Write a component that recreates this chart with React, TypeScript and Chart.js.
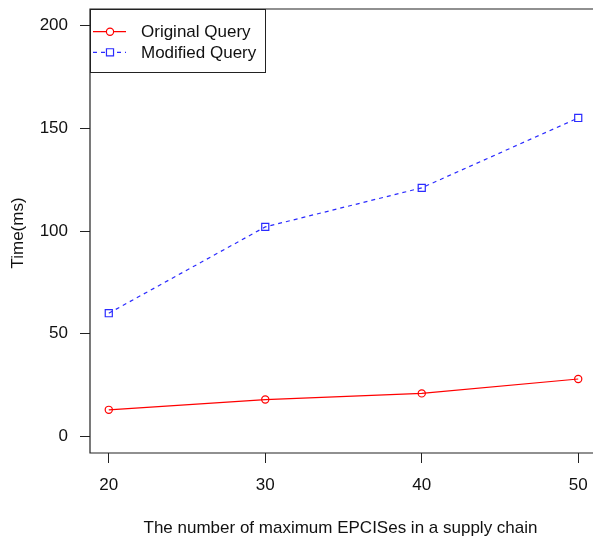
import { useEffect, useRef } from "react";
import { Chart, registerables } from "chart.js";

Chart.register(...registerables);

// Query time versus the maximum number of EPCISes in a supply chain
const epcisCounts = [20, 30, 40, 50];
const originalQueryMs = [13, 18, 21, 28];
const modifiedQueryMs = [60, 102, 121, 155];
const xTicks = [20, 30, 40, 50];
const yTicks = [0, 50, 100, 150, 200];
const seriesNames = ["Original Query", "Modified Query"];
const xTitle = "The number of maximum EPCISes in a supply chain";
const yTitle = "Time(ms)";

const FONT = "'Liberation Sans', Arial, Helvetica, sans-serif";
const FONT_SIZE = 17;
const RED = "#ff0000";
const BLUE = "#2b2bff";

// Frame around the plot region, R-style legend in the top-left corner and axis titles
const framePlugin = {
  id: "frameAndLegend",
  afterDraw(chart: any) {
    const { ctx, chartArea } = chart;
    const { left, top, right, bottom } = chartArea;
    ctx.save();

    // legend box
    const lw = 175;
    const lh = 63;
    ctx.fillStyle = "#ffffff";
    ctx.fillRect(left, top, lw, lh);
    ctx.strokeStyle = "#222";
    ctx.lineWidth = 1;
    ctx.strokeRect(left + 0.5, top + 0.5, lw, lh);

    const rows = [top + 22.7, top + 43.3];
    const sx0 = left + 3;
    const sx1 = left + 36;
    const mx = left + 20;
    ctx.font = `${FONT_SIZE}px ${FONT}`;
    ctx.textBaseline = "middle";
    ctx.textAlign = "left";
    chart.data.datasets.forEach((ds: any, i: number) => {
      const y = rows[i];
      ctx.strokeStyle = ds.borderColor;
      ctx.lineWidth = ds.borderWidth;
      ctx.setLineDash(ds.borderDash || []);
      ctx.beginPath();
      ctx.moveTo(sx0, y);
      ctx.lineTo(sx1, y);
      ctx.stroke();
      ctx.setLineDash([]);
      ctx.beginPath();
      if (ds.pointStyle === "rect") {
        const h = ds.pointRadius * Math.SQRT1_2;
        ctx.rect(mx - h, y - h, 2 * h, 2 * h);
      } else {
        ctx.arc(mx, y, ds.pointRadius, 0, Math.PI * 2);
      }
      ctx.fillStyle = "#ffffff";
      ctx.fill();
      ctx.stroke();
      ctx.fillStyle = "#111";
      ctx.fillText(ds.label, left + 51, y + 1);
    });

    // plot frame: top, left and bottom edges (the right edge lies past the page)
    ctx.strokeStyle = "#222";
    ctx.lineWidth = 1.2;
    ctx.beginPath();
    ctx.moveTo(right + 10, top);
    ctx.lineTo(left, top);
    ctx.lineTo(left, bottom);
    ctx.lineTo(right + 10, bottom);
    ctx.stroke();

    // axis titles
    ctx.fillStyle = "#111";
    ctx.font = `${FONT_SIZE}px ${FONT}`;
    ctx.textAlign = "center";
    ctx.textBaseline = "alphabetic";
    ctx.fillText(xTitle, (left + right) / 2 - 3, bottom + 80);
    ctx.translate(22.5, (top + bottom) / 2 + 2);
    ctx.rotate(-Math.PI / 2);
    ctx.fillText(yTitle, 0, 0);
    ctx.restore();
  },
};

export default function App() {
  const canvasRef = useRef<HTMLCanvasElement | null>(null);

  useEffect(() => {
    const canvas = canvasRef.current;
    if (!canvas) return;
    const chart = new Chart(canvas, {
      type: "line",
      data: {
        datasets: [
          {
            label: seriesNames[0],
            data: epcisCounts.map((x, i) => ({ x, y: originalQueryMs[i] })),
            borderColor: RED,
            borderWidth: 1.2,
            pointStyle: "circle",
            pointRadius: 3.6,
            pointBorderWidth: 1.2,
            pointBorderColor: RED,
            pointBackgroundColor: "rgba(0,0,0,0)",
            tension: 0,
          },
          {
            label: seriesNames[1],
            data: epcisCounts.map((x, i) => ({ x, y: modifiedQueryMs[i] })),
            borderColor: BLUE,
            borderWidth: 1.2,
            borderDash: [4, 4],
            pointStyle: "rect",
            pointRadius: 5,
            pointBorderWidth: 1.2,
            pointBorderColor: BLUE,
            pointBackgroundColor: "rgba(0,0,0,0)",
            tension: 0,
          },
        ],
      },
      options: {
        animation: false,
        responsive: false,
        devicePixelRatio: 1,
        layout: { padding: { top: 9, right: 23, left: 0, bottom: 0 } },
        plugins: {
          legend: { display: false },
          tooltip: { enabled: false },
        },
        scales: {
          x: {
            type: "linear",
            min: 18.8,
            max: 51.2,
            afterBuildTicks: (axis: any) => {
              axis.ticks = xTicks.map((v) => ({ value: v }));
            },
            afterFit: (axis: any) => {
              axis.height = 83;
              axis.paddingLeft = 0;
              axis.paddingRight = 0;
            },
            grid: {
              drawOnChartArea: false,
              drawTicks: true,
              tickLength: 10,
              tickColor: "#222",
              tickWidth: 1,
            },
            border: { display: false },
            ticks: {
              padding: 12,
              color: "#111",
              font: { family: FONT, size: FONT_SIZE },
              maxRotation: 0,
              autoSkip: false,
            },
          },
          y: {
            type: "linear",
            min: -8,
            max: 208,
            afterBuildTicks: (axis: any) => {
              axis.ticks = yTicks.map((v) => ({ value: v }));
            },
            afterFit: (axis: any) => {
              axis.width = 90;
              axis.paddingTop = 0;
              axis.paddingBottom = 0;
            },
            grid: {
              drawOnChartArea: false,
              drawTicks: true,
              tickLength: 10,
              tickColor: "#222",
              tickWidth: 1,
            },
            border: { display: false },
            ticks: {
              padding: 12,
              color: "#111",
              font: { family: FONT, size: FONT_SIZE },
              autoSkip: false,
            },
          },
        },
      },
      plugins: [framePlugin],
    } as any);
    return () => chart.destroy();
  }, []);

  return (
    <div
      style={{
        position: "fixed",
        left: 0,
        top: 0,
        width: 593,
        height: 536,
        overflow: "hidden",
        background: "#fff",
      }}
    >
      <canvas
        ref={canvasRef}
        width={620}
        height={536}
        style={{ display: "block", width: 620, height: 536 }}
      />
    </div>
  );
}
